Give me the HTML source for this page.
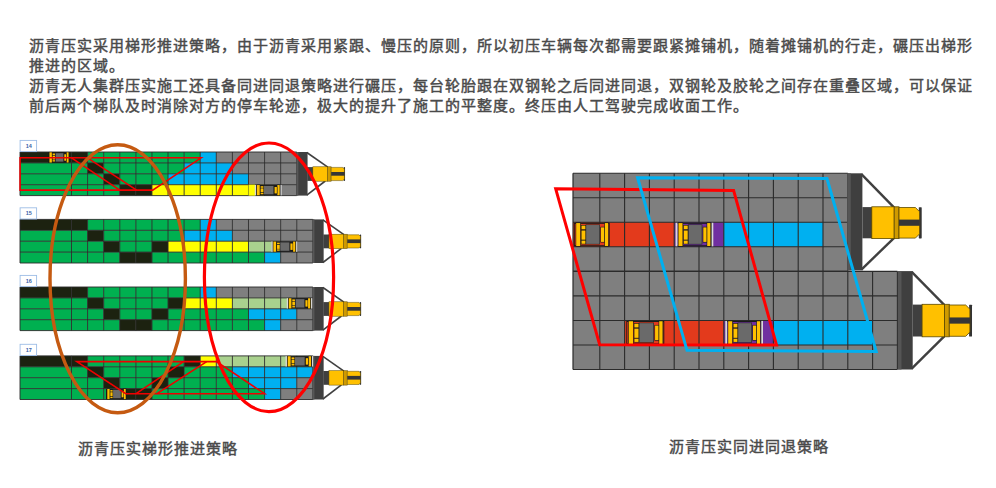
<!DOCTYPE html>
<html lang="zh-CN"><head><meta charset="utf-8">
<style>
html,body{margin:0;padding:0;background:#fff;}
body{width:996px;height:488px;position:relative;overflow:hidden;font-family:"Liberation Sans",sans-serif;}
.t{position:absolute;left:29px;font-size:15px;letter-spacing:1px;line-height:20px;color:#4a4a4a;font-weight:400;-webkit-text-stroke:0.45px #4a4a4a;white-space:nowrap;}
.cap{position:absolute;font-size:15px;letter-spacing:1px;line-height:20px;color:#4a4a4a;font-weight:400;-webkit-text-stroke:0.45px #4a4a4a;white-space:nowrap;}
svg{position:absolute;left:0;top:0;}
</style></head><body>
<div class="t" style="top:35.7px">沥青压实采用梯形推进策略，由于沥青采用紧跟、慢压的原则，所以初压车辆每次都需要跟紧摊铺机，随着摊铺机的行走，碾压出梯形<br>推进的区域。<br>沥青无人集群压实施工还具备同进同退策略进行碾压，每台轮胎跟在双钢轮之后同进同退，双钢轮及胶轮之间存在重叠区域，可以保证<br>前后两个梯队及时消除对方的停车轮迹，极大的提升了施工的平整度。终压由人工驾驶完成收面工作。</div>
<svg width="996" height="488" viewBox="0 0 996 488">
<g id="left">
<rect x="20.00" y="152.00" width="51.50" height="10.90" fill="#1c2210" />
<rect x="71.50" y="152.00" width="16.09" height="10.90" fill="#1c2210" />
<rect x="87.59" y="152.00" width="16.09" height="10.90" fill="#00b050" />
<rect x="103.68" y="152.00" width="16.09" height="10.90" fill="#00b050" />
<rect x="119.77" y="152.00" width="16.09" height="10.90" fill="#00b050" />
<rect x="135.86" y="152.00" width="16.09" height="10.90" fill="#00b050" />
<rect x="151.95" y="152.00" width="16.09" height="10.90" fill="#00b050" />
<rect x="168.04" y="152.00" width="16.09" height="10.90" fill="#00b050" />
<rect x="184.13" y="152.00" width="16.09" height="10.90" fill="#00b050" />
<rect x="200.22" y="152.00" width="16.09" height="10.90" fill="#00b0f0" />
<rect x="216.31" y="152.00" width="16.09" height="10.90" fill="#7f7f7f" />
<rect x="232.40" y="152.00" width="16.09" height="10.90" fill="#7f7f7f" />
<rect x="248.49" y="152.00" width="16.09" height="10.90" fill="#7f7f7f" />
<rect x="264.58" y="152.00" width="16.09" height="10.90" fill="#7f7f7f" />
<rect x="280.67" y="152.00" width="16.09" height="10.90" fill="#7f7f7f" />
<rect x="20.00" y="162.90" width="51.50" height="10.90" fill="#00b050" />
<rect x="71.50" y="162.90" width="16.09" height="10.90" fill="#00b050" />
<rect x="87.59" y="162.90" width="16.09" height="10.90" fill="#1c2210" />
<rect x="103.68" y="162.90" width="16.09" height="10.90" fill="#00b050" />
<rect x="119.77" y="162.90" width="16.09" height="10.90" fill="#00b050" />
<rect x="135.86" y="162.90" width="16.09" height="10.90" fill="#00b050" />
<rect x="151.95" y="162.90" width="16.09" height="10.90" fill="#00b050" />
<rect x="168.04" y="162.90" width="16.09" height="10.90" fill="#00b050" />
<rect x="184.13" y="162.90" width="16.09" height="10.90" fill="#00b0f0" />
<rect x="200.22" y="162.90" width="16.09" height="10.90" fill="#00b0f0" />
<rect x="216.31" y="162.90" width="16.09" height="10.90" fill="#00b0f0" />
<rect x="232.40" y="162.90" width="16.09" height="10.90" fill="#7f7f7f" />
<rect x="248.49" y="162.90" width="16.09" height="10.90" fill="#7f7f7f" />
<rect x="264.58" y="162.90" width="16.09" height="10.90" fill="#7f7f7f" />
<rect x="280.67" y="162.90" width="16.09" height="10.90" fill="#7f7f7f" />
<rect x="20.00" y="173.80" width="51.50" height="10.90" fill="#00b050" />
<rect x="71.50" y="173.80" width="16.09" height="10.90" fill="#00b050" />
<rect x="87.59" y="173.80" width="16.09" height="10.90" fill="#00b050" />
<rect x="103.68" y="173.80" width="16.09" height="10.90" fill="#1c2210" />
<rect x="119.77" y="173.80" width="16.09" height="10.90" fill="#00b050" />
<rect x="135.86" y="173.80" width="16.09" height="10.90" fill="#00b050" />
<rect x="151.95" y="173.80" width="16.09" height="10.90" fill="#00b050" />
<rect x="168.04" y="173.80" width="16.09" height="10.90" fill="#00b0f0" />
<rect x="184.13" y="173.80" width="16.09" height="10.90" fill="#00b0f0" />
<rect x="200.22" y="173.80" width="16.09" height="10.90" fill="#00b0f0" />
<rect x="216.31" y="173.80" width="16.09" height="10.90" fill="#00b0f0" />
<rect x="232.40" y="173.80" width="16.09" height="10.90" fill="#00b0f0" />
<rect x="248.49" y="173.80" width="16.09" height="10.90" fill="#7f7f7f" />
<rect x="264.58" y="173.80" width="16.09" height="10.90" fill="#7f7f7f" />
<rect x="280.67" y="173.80" width="16.09" height="10.90" fill="#7f7f7f" />
<rect x="20.00" y="184.70" width="51.50" height="10.90" fill="#00b050" />
<rect x="71.50" y="184.70" width="16.09" height="10.90" fill="#00b050" />
<rect x="87.59" y="184.70" width="16.09" height="10.90" fill="#00b050" />
<rect x="103.68" y="184.70" width="16.09" height="10.90" fill="#00b050" />
<rect x="119.77" y="184.70" width="16.09" height="10.90" fill="#1c2210" />
<rect x="135.86" y="184.70" width="16.09" height="10.90" fill="#1c2210" />
<rect x="151.95" y="184.70" width="16.09" height="10.90" fill="#ffff00" />
<rect x="168.04" y="184.70" width="16.09" height="10.90" fill="#ffff00" />
<rect x="184.13" y="184.70" width="16.09" height="10.90" fill="#ffff00" />
<rect x="200.22" y="184.70" width="16.09" height="10.90" fill="#ffff00" />
<rect x="216.31" y="184.70" width="16.09" height="10.90" fill="#ffff00" />
<rect x="232.40" y="184.70" width="16.09" height="10.90" fill="#ffff00" />
<rect x="248.49" y="184.70" width="16.09" height="10.90" fill="#ffff00" />
<rect x="264.58" y="184.70" width="16.09" height="10.90" fill="#7f7f7f" />
<rect x="280.67" y="184.70" width="16.09" height="10.90" fill="#7f7f7f" />
<line x1="71.50" y1="152.00" x2="71.50" y2="195.60" stroke="#2b2b2b" stroke-width="0.9" />
<line x1="87.59" y1="152.00" x2="87.59" y2="195.60" stroke="#2b2b2b" stroke-width="0.9" />
<line x1="103.68" y1="152.00" x2="103.68" y2="195.60" stroke="#2b2b2b" stroke-width="0.9" />
<line x1="119.77" y1="152.00" x2="119.77" y2="195.60" stroke="#2b2b2b" stroke-width="0.9" />
<line x1="135.86" y1="152.00" x2="135.86" y2="195.60" stroke="#2b2b2b" stroke-width="0.9" />
<line x1="151.95" y1="152.00" x2="151.95" y2="195.60" stroke="#2b2b2b" stroke-width="0.9" />
<line x1="168.04" y1="152.00" x2="168.04" y2="195.60" stroke="#2b2b2b" stroke-width="0.9" />
<line x1="184.13" y1="152.00" x2="184.13" y2="195.60" stroke="#2b2b2b" stroke-width="0.9" />
<line x1="200.22" y1="152.00" x2="200.22" y2="195.60" stroke="#2b2b2b" stroke-width="0.9" />
<line x1="216.31" y1="152.00" x2="216.31" y2="195.60" stroke="#2b2b2b" stroke-width="0.9" />
<line x1="232.40" y1="152.00" x2="232.40" y2="195.60" stroke="#2b2b2b" stroke-width="0.9" />
<line x1="248.49" y1="152.00" x2="248.49" y2="195.60" stroke="#2b2b2b" stroke-width="0.9" />
<line x1="264.58" y1="152.00" x2="264.58" y2="195.60" stroke="#2b2b2b" stroke-width="0.9" />
<line x1="280.67" y1="152.00" x2="280.67" y2="195.60" stroke="#2b2b2b" stroke-width="0.9" />
<line x1="296.76" y1="152.00" x2="296.76" y2="195.60" stroke="#2b2b2b" stroke-width="0.9" />
<line x1="20.00" y1="152.00" x2="296.76" y2="152.00" stroke="#2b2b2b" stroke-width="0.9" />
<line x1="20.00" y1="162.90" x2="296.76" y2="162.90" stroke="#2b2b2b" stroke-width="0.9" />
<line x1="20.00" y1="173.80" x2="296.76" y2="173.80" stroke="#2b2b2b" stroke-width="0.9" />
<line x1="20.00" y1="184.70" x2="296.76" y2="184.70" stroke="#2b2b2b" stroke-width="0.9" />
<line x1="20.00" y1="195.60" x2="296.76" y2="195.60" stroke="#2b2b2b" stroke-width="0.9" />
<line x1="20.00" y1="152.00" x2="20.00" y2="195.60" stroke="#2b2b2b" stroke-width="0.9" />
<polyline points="306.8,152.5 327.8,167.2" stroke="#404040" stroke-width="1.6" fill="none"/>
<polyline points="306.8,195.1 325.3,181.0" stroke="#404040" stroke-width="1.6" fill="none"/>
<rect x="296.76" y="152.00" width="10.80" height="43.60" fill="#3f3f3f" />
<rect x="296.76" y="152.00" width="1.60" height="43.60" fill="#575757" />
<rect x="307.26" y="167.10" width="6.10" height="13.80" fill="#3f3f3f" />
<rect x="312.86" y="166.80" width="14.40" height="14.40" fill="#ffc000" stroke="#5a4800" stroke-width="0.5"/>
<rect x="327.26" y="166.80" width="3.90" height="14.40" fill="#cf9a00" stroke="#5a4800" stroke-width="0.5"/>
<rect x="343.56" y="167.10" width="1.48" height="13.80" fill="#333" rx="0.6"/>
<path d="M331.16,167.40 H342.76 L344.36,169.00 V179.00 L342.76,180.60 H331.16 Z" fill="#ffc000" stroke="#5a4800" stroke-width="0.5"/>
<rect x="331.16" y="172.00" width="13.50" height="3.70" fill="#363636" />
<rect x="20.10" y="140.40" width="16.50" height="11.20" fill="#fff" stroke="#9dbde6" stroke-width="0.9"/>
<text x="28.7" y="148.0" font-size="5.5" font-weight="bold" fill="#3b64a8" text-anchor="middle" font-family="Liberation Sans">14</text>
<rect x="20.00" y="219.40" width="51.50" height="10.90" fill="#1c2210" />
<rect x="71.50" y="219.40" width="16.09" height="10.90" fill="#1c2210" />
<rect x="87.59" y="219.40" width="16.09" height="10.90" fill="#00b050" />
<rect x="103.68" y="219.40" width="16.09" height="10.90" fill="#00b050" />
<rect x="119.77" y="219.40" width="16.09" height="10.90" fill="#00b050" />
<rect x="135.86" y="219.40" width="16.09" height="10.90" fill="#00b050" />
<rect x="151.95" y="219.40" width="16.09" height="10.90" fill="#00b050" />
<rect x="168.04" y="219.40" width="16.09" height="10.90" fill="#00b050" />
<rect x="184.13" y="219.40" width="16.09" height="10.90" fill="#00b050" />
<rect x="200.22" y="219.40" width="16.09" height="10.90" fill="#00b0f0" />
<rect x="216.31" y="219.40" width="16.09" height="10.90" fill="#7f7f7f" />
<rect x="232.40" y="219.40" width="16.09" height="10.90" fill="#7f7f7f" />
<rect x="248.49" y="219.40" width="16.09" height="10.90" fill="#7f7f7f" />
<rect x="264.58" y="219.40" width="16.09" height="10.90" fill="#7f7f7f" />
<rect x="280.67" y="219.40" width="16.09" height="10.90" fill="#7f7f7f" />
<rect x="296.76" y="219.40" width="16.09" height="10.90" fill="#7f7f7f" />
<rect x="20.00" y="230.30" width="51.50" height="10.90" fill="#00b050" />
<rect x="71.50" y="230.30" width="16.09" height="10.90" fill="#00b050" />
<rect x="87.59" y="230.30" width="16.09" height="10.90" fill="#1c2210" />
<rect x="103.68" y="230.30" width="16.09" height="10.90" fill="#00b050" />
<rect x="119.77" y="230.30" width="16.09" height="10.90" fill="#00b050" />
<rect x="135.86" y="230.30" width="16.09" height="10.90" fill="#00b050" />
<rect x="151.95" y="230.30" width="16.09" height="10.90" fill="#00b050" />
<rect x="168.04" y="230.30" width="16.09" height="10.90" fill="#00b050" />
<rect x="184.13" y="230.30" width="16.09" height="10.90" fill="#00b0f0" />
<rect x="200.22" y="230.30" width="16.09" height="10.90" fill="#00b0f0" />
<rect x="216.31" y="230.30" width="16.09" height="10.90" fill="#00b0f0" />
<rect x="232.40" y="230.30" width="16.09" height="10.90" fill="#7f7f7f" />
<rect x="248.49" y="230.30" width="16.09" height="10.90" fill="#7f7f7f" />
<rect x="264.58" y="230.30" width="16.09" height="10.90" fill="#7f7f7f" />
<rect x="280.67" y="230.30" width="16.09" height="10.90" fill="#7f7f7f" />
<rect x="296.76" y="230.30" width="16.09" height="10.90" fill="#7f7f7f" />
<rect x="20.00" y="241.20" width="51.50" height="10.90" fill="#00b050" />
<rect x="71.50" y="241.20" width="16.09" height="10.90" fill="#00b050" />
<rect x="87.59" y="241.20" width="16.09" height="10.90" fill="#00b050" />
<rect x="103.68" y="241.20" width="16.09" height="10.90" fill="#1c2210" />
<rect x="119.77" y="241.20" width="16.09" height="10.90" fill="#00b050" />
<rect x="135.86" y="241.20" width="16.09" height="10.90" fill="#00b050" />
<rect x="151.95" y="241.20" width="16.09" height="10.90" fill="#1c2210" />
<rect x="168.04" y="241.20" width="16.09" height="10.90" fill="#ffff00" />
<rect x="184.13" y="241.20" width="16.09" height="10.90" fill="#ffff00" />
<rect x="200.22" y="241.20" width="16.09" height="10.90" fill="#ffff00" />
<rect x="216.31" y="241.20" width="16.09" height="10.90" fill="#ffff00" />
<rect x="232.40" y="241.20" width="16.09" height="10.90" fill="#ffff00" />
<rect x="248.49" y="241.20" width="16.09" height="10.90" fill="#a9d18e" />
<rect x="264.58" y="241.20" width="16.09" height="10.90" fill="#a9d18e" />
<rect x="280.67" y="241.20" width="16.09" height="10.90" fill="#7f7f7f" />
<rect x="296.76" y="241.20" width="16.09" height="10.90" fill="#7f7f7f" />
<rect x="20.00" y="252.10" width="51.50" height="10.90" fill="#00b050" />
<rect x="71.50" y="252.10" width="16.09" height="10.90" fill="#00b050" />
<rect x="87.59" y="252.10" width="16.09" height="10.90" fill="#00b050" />
<rect x="103.68" y="252.10" width="16.09" height="10.90" fill="#00b050" />
<rect x="119.77" y="252.10" width="16.09" height="10.90" fill="#1c2210" />
<rect x="135.86" y="252.10" width="16.09" height="10.90" fill="#1c2210" />
<rect x="151.95" y="252.10" width="16.09" height="10.90" fill="#00b050" />
<rect x="168.04" y="252.10" width="16.09" height="10.90" fill="#00b050" />
<rect x="184.13" y="252.10" width="16.09" height="10.90" fill="#00b050" />
<rect x="200.22" y="252.10" width="16.09" height="10.90" fill="#00b050" />
<rect x="216.31" y="252.10" width="16.09" height="10.90" fill="#00b050" />
<rect x="232.40" y="252.10" width="16.09" height="10.90" fill="#00b050" />
<rect x="248.49" y="252.10" width="16.09" height="10.90" fill="#00b050" />
<rect x="264.58" y="252.10" width="16.09" height="10.90" fill="#00b0f0" />
<rect x="280.67" y="252.10" width="16.09" height="10.90" fill="#7f7f7f" />
<rect x="296.76" y="252.10" width="16.09" height="10.90" fill="#7f7f7f" />
<line x1="71.50" y1="219.40" x2="71.50" y2="263.00" stroke="#2b2b2b" stroke-width="0.9" />
<line x1="87.59" y1="219.40" x2="87.59" y2="263.00" stroke="#2b2b2b" stroke-width="0.9" />
<line x1="103.68" y1="219.40" x2="103.68" y2="263.00" stroke="#2b2b2b" stroke-width="0.9" />
<line x1="119.77" y1="219.40" x2="119.77" y2="263.00" stroke="#2b2b2b" stroke-width="0.9" />
<line x1="135.86" y1="219.40" x2="135.86" y2="263.00" stroke="#2b2b2b" stroke-width="0.9" />
<line x1="151.95" y1="219.40" x2="151.95" y2="263.00" stroke="#2b2b2b" stroke-width="0.9" />
<line x1="168.04" y1="219.40" x2="168.04" y2="263.00" stroke="#2b2b2b" stroke-width="0.9" />
<line x1="184.13" y1="219.40" x2="184.13" y2="263.00" stroke="#2b2b2b" stroke-width="0.9" />
<line x1="200.22" y1="219.40" x2="200.22" y2="263.00" stroke="#2b2b2b" stroke-width="0.9" />
<line x1="216.31" y1="219.40" x2="216.31" y2="263.00" stroke="#2b2b2b" stroke-width="0.9" />
<line x1="232.40" y1="219.40" x2="232.40" y2="263.00" stroke="#2b2b2b" stroke-width="0.9" />
<line x1="248.49" y1="219.40" x2="248.49" y2="263.00" stroke="#2b2b2b" stroke-width="0.9" />
<line x1="264.58" y1="219.40" x2="264.58" y2="263.00" stroke="#2b2b2b" stroke-width="0.9" />
<line x1="280.67" y1="219.40" x2="280.67" y2="263.00" stroke="#2b2b2b" stroke-width="0.9" />
<line x1="296.76" y1="219.40" x2="296.76" y2="263.00" stroke="#2b2b2b" stroke-width="0.9" />
<line x1="312.85" y1="219.40" x2="312.85" y2="263.00" stroke="#2b2b2b" stroke-width="0.9" />
<line x1="20.00" y1="219.40" x2="312.85" y2="219.40" stroke="#2b2b2b" stroke-width="0.9" />
<line x1="20.00" y1="230.30" x2="312.85" y2="230.30" stroke="#2b2b2b" stroke-width="0.9" />
<line x1="20.00" y1="241.20" x2="312.85" y2="241.20" stroke="#2b2b2b" stroke-width="0.9" />
<line x1="20.00" y1="252.10" x2="312.85" y2="252.10" stroke="#2b2b2b" stroke-width="0.9" />
<line x1="20.00" y1="263.00" x2="312.85" y2="263.00" stroke="#2b2b2b" stroke-width="0.9" />
<line x1="20.00" y1="219.40" x2="20.00" y2="263.00" stroke="#2b2b2b" stroke-width="0.9" />
<polyline points="322.9,219.9 343.9,234.6" stroke="#404040" stroke-width="1.6" fill="none"/>
<polyline points="322.9,262.5 341.4,248.4" stroke="#404040" stroke-width="1.6" fill="none"/>
<rect x="312.85" y="219.40" width="10.80" height="43.60" fill="#3f3f3f" />
<rect x="312.85" y="219.40" width="1.60" height="43.60" fill="#575757" />
<rect x="323.35" y="234.50" width="6.10" height="13.80" fill="#3f3f3f" />
<rect x="328.95" y="234.20" width="14.40" height="14.40" fill="#ffc000" stroke="#5a4800" stroke-width="0.5"/>
<rect x="343.35" y="234.20" width="3.90" height="14.40" fill="#cf9a00" stroke="#5a4800" stroke-width="0.5"/>
<rect x="359.65" y="234.50" width="1.48" height="13.80" fill="#333" rx="0.6"/>
<path d="M347.25,234.80 H358.85 L360.45,236.40 V246.40 L358.85,248.00 H347.25 Z" fill="#ffc000" stroke="#5a4800" stroke-width="0.5"/>
<rect x="347.25" y="239.40" width="13.50" height="3.70" fill="#363636" />
<rect x="20.10" y="207.80" width="16.50" height="11.20" fill="#fff" stroke="#9dbde6" stroke-width="0.9"/>
<text x="28.7" y="215.4" font-size="5.5" font-weight="bold" fill="#3b64a8" text-anchor="middle" font-family="Liberation Sans">15</text>
<rect x="20.00" y="287.00" width="51.50" height="10.90" fill="#1c2210" />
<rect x="71.50" y="287.00" width="16.09" height="10.90" fill="#1c2210" />
<rect x="87.59" y="287.00" width="16.09" height="10.90" fill="#00b050" />
<rect x="103.68" y="287.00" width="16.09" height="10.90" fill="#00b050" />
<rect x="119.77" y="287.00" width="16.09" height="10.90" fill="#00b050" />
<rect x="135.86" y="287.00" width="16.09" height="10.90" fill="#00b050" />
<rect x="151.95" y="287.00" width="16.09" height="10.90" fill="#00b050" />
<rect x="168.04" y="287.00" width="16.09" height="10.90" fill="#00b050" />
<rect x="184.13" y="287.00" width="16.09" height="10.90" fill="#00b050" />
<rect x="200.22" y="287.00" width="16.09" height="10.90" fill="#00b0f0" />
<rect x="216.31" y="287.00" width="16.09" height="10.90" fill="#7f7f7f" />
<rect x="232.40" y="287.00" width="16.09" height="10.90" fill="#7f7f7f" />
<rect x="248.49" y="287.00" width="16.09" height="10.90" fill="#7f7f7f" />
<rect x="264.58" y="287.00" width="16.09" height="10.90" fill="#7f7f7f" />
<rect x="280.67" y="287.00" width="16.09" height="10.90" fill="#7f7f7f" />
<rect x="296.76" y="287.00" width="16.09" height="10.90" fill="#7f7f7f" />
<rect x="20.00" y="297.90" width="51.50" height="10.90" fill="#00b050" />
<rect x="71.50" y="297.90" width="16.09" height="10.90" fill="#00b050" />
<rect x="87.59" y="297.90" width="16.09" height="10.90" fill="#1c2210" />
<rect x="103.68" y="297.90" width="16.09" height="10.90" fill="#00b050" />
<rect x="119.77" y="297.90" width="16.09" height="10.90" fill="#00b050" />
<rect x="135.86" y="297.90" width="16.09" height="10.90" fill="#00b050" />
<rect x="151.95" y="297.90" width="16.09" height="10.90" fill="#00b050" />
<rect x="168.04" y="297.90" width="16.09" height="10.90" fill="#1c2210" />
<rect x="184.13" y="297.90" width="16.09" height="10.90" fill="#ffff00" />
<rect x="200.22" y="297.90" width="16.09" height="10.90" fill="#ffff00" />
<rect x="216.31" y="297.90" width="16.09" height="10.90" fill="#ffff00" />
<rect x="232.40" y="297.90" width="16.09" height="10.90" fill="#a9d18e" />
<rect x="248.49" y="297.90" width="16.09" height="10.90" fill="#a9d18e" />
<rect x="264.58" y="297.90" width="16.09" height="10.90" fill="#a9d18e" />
<rect x="280.67" y="297.90" width="16.09" height="10.90" fill="#a9d18e" />
<rect x="296.76" y="297.90" width="16.09" height="10.90" fill="#7f7f7f" />
<rect x="20.00" y="308.80" width="51.50" height="10.90" fill="#00b050" />
<rect x="71.50" y="308.80" width="16.09" height="10.90" fill="#00b050" />
<rect x="87.59" y="308.80" width="16.09" height="10.90" fill="#00b050" />
<rect x="103.68" y="308.80" width="16.09" height="10.90" fill="#1c2210" />
<rect x="119.77" y="308.80" width="16.09" height="10.90" fill="#00b050" />
<rect x="135.86" y="308.80" width="16.09" height="10.90" fill="#00b050" />
<rect x="151.95" y="308.80" width="16.09" height="10.90" fill="#1c2210" />
<rect x="168.04" y="308.80" width="16.09" height="10.90" fill="#00b050" />
<rect x="184.13" y="308.80" width="16.09" height="10.90" fill="#00b050" />
<rect x="200.22" y="308.80" width="16.09" height="10.90" fill="#00b050" />
<rect x="216.31" y="308.80" width="16.09" height="10.90" fill="#00b050" />
<rect x="232.40" y="308.80" width="16.09" height="10.90" fill="#00b050" />
<rect x="248.49" y="308.80" width="16.09" height="10.90" fill="#00b0f0" />
<rect x="264.58" y="308.80" width="16.09" height="10.90" fill="#00b0f0" />
<rect x="280.67" y="308.80" width="16.09" height="10.90" fill="#00b0f0" />
<rect x="296.76" y="308.80" width="16.09" height="10.90" fill="#7f7f7f" />
<rect x="20.00" y="319.70" width="51.50" height="10.90" fill="#00b050" />
<rect x="71.50" y="319.70" width="16.09" height="10.90" fill="#00b050" />
<rect x="87.59" y="319.70" width="16.09" height="10.90" fill="#00b050" />
<rect x="103.68" y="319.70" width="16.09" height="10.90" fill="#00b050" />
<rect x="119.77" y="319.70" width="16.09" height="10.90" fill="#1c2210" />
<rect x="135.86" y="319.70" width="16.09" height="10.90" fill="#1c2210" />
<rect x="151.95" y="319.70" width="16.09" height="10.90" fill="#00b050" />
<rect x="168.04" y="319.70" width="16.09" height="10.90" fill="#00b050" />
<rect x="184.13" y="319.70" width="16.09" height="10.90" fill="#00b050" />
<rect x="200.22" y="319.70" width="16.09" height="10.90" fill="#00b050" />
<rect x="216.31" y="319.70" width="16.09" height="10.90" fill="#00b050" />
<rect x="232.40" y="319.70" width="16.09" height="10.90" fill="#00b050" />
<rect x="248.49" y="319.70" width="16.09" height="10.90" fill="#00b050" />
<rect x="264.58" y="319.70" width="16.09" height="10.90" fill="#00b0f0" />
<rect x="280.67" y="319.70" width="16.09" height="10.90" fill="#7f7f7f" />
<rect x="296.76" y="319.70" width="16.09" height="10.90" fill="#7f7f7f" />
<line x1="71.50" y1="287.00" x2="71.50" y2="330.60" stroke="#2b2b2b" stroke-width="0.9" />
<line x1="87.59" y1="287.00" x2="87.59" y2="330.60" stroke="#2b2b2b" stroke-width="0.9" />
<line x1="103.68" y1="287.00" x2="103.68" y2="330.60" stroke="#2b2b2b" stroke-width="0.9" />
<line x1="119.77" y1="287.00" x2="119.77" y2="330.60" stroke="#2b2b2b" stroke-width="0.9" />
<line x1="135.86" y1="287.00" x2="135.86" y2="330.60" stroke="#2b2b2b" stroke-width="0.9" />
<line x1="151.95" y1="287.00" x2="151.95" y2="330.60" stroke="#2b2b2b" stroke-width="0.9" />
<line x1="168.04" y1="287.00" x2="168.04" y2="330.60" stroke="#2b2b2b" stroke-width="0.9" />
<line x1="184.13" y1="287.00" x2="184.13" y2="330.60" stroke="#2b2b2b" stroke-width="0.9" />
<line x1="200.22" y1="287.00" x2="200.22" y2="330.60" stroke="#2b2b2b" stroke-width="0.9" />
<line x1="216.31" y1="287.00" x2="216.31" y2="330.60" stroke="#2b2b2b" stroke-width="0.9" />
<line x1="232.40" y1="287.00" x2="232.40" y2="330.60" stroke="#2b2b2b" stroke-width="0.9" />
<line x1="248.49" y1="287.00" x2="248.49" y2="330.60" stroke="#2b2b2b" stroke-width="0.9" />
<line x1="264.58" y1="287.00" x2="264.58" y2="330.60" stroke="#2b2b2b" stroke-width="0.9" />
<line x1="280.67" y1="287.00" x2="280.67" y2="330.60" stroke="#2b2b2b" stroke-width="0.9" />
<line x1="296.76" y1="287.00" x2="296.76" y2="330.60" stroke="#2b2b2b" stroke-width="0.9" />
<line x1="312.85" y1="287.00" x2="312.85" y2="330.60" stroke="#2b2b2b" stroke-width="0.9" />
<line x1="20.00" y1="287.00" x2="312.85" y2="287.00" stroke="#2b2b2b" stroke-width="0.9" />
<line x1="20.00" y1="297.90" x2="312.85" y2="297.90" stroke="#2b2b2b" stroke-width="0.9" />
<line x1="20.00" y1="308.80" x2="312.85" y2="308.80" stroke="#2b2b2b" stroke-width="0.9" />
<line x1="20.00" y1="319.70" x2="312.85" y2="319.70" stroke="#2b2b2b" stroke-width="0.9" />
<line x1="20.00" y1="330.60" x2="312.85" y2="330.60" stroke="#2b2b2b" stroke-width="0.9" />
<line x1="20.00" y1="287.00" x2="20.00" y2="330.60" stroke="#2b2b2b" stroke-width="0.9" />
<polyline points="322.9,287.5 343.9,302.2" stroke="#404040" stroke-width="1.6" fill="none"/>
<polyline points="322.9,330.1 341.4,316.0" stroke="#404040" stroke-width="1.6" fill="none"/>
<rect x="312.85" y="287.00" width="10.80" height="43.60" fill="#3f3f3f" />
<rect x="312.85" y="287.00" width="1.60" height="43.60" fill="#575757" />
<rect x="323.35" y="302.10" width="6.10" height="13.80" fill="#3f3f3f" />
<rect x="328.95" y="301.80" width="14.40" height="14.40" fill="#ffc000" stroke="#5a4800" stroke-width="0.5"/>
<rect x="343.35" y="301.80" width="3.90" height="14.40" fill="#cf9a00" stroke="#5a4800" stroke-width="0.5"/>
<rect x="359.65" y="302.10" width="1.48" height="13.80" fill="#333" rx="0.6"/>
<path d="M347.25,302.40 H358.85 L360.45,304.00 V314.00 L358.85,315.60 H347.25 Z" fill="#ffc000" stroke="#5a4800" stroke-width="0.5"/>
<rect x="347.25" y="307.00" width="13.50" height="3.70" fill="#363636" />
<rect x="20.10" y="275.40" width="16.50" height="11.20" fill="#fff" stroke="#9dbde6" stroke-width="0.9"/>
<text x="28.7" y="283.0" font-size="5.5" font-weight="bold" fill="#3b64a8" text-anchor="middle" font-family="Liberation Sans">16</text>
<rect x="20.00" y="355.90" width="51.50" height="10.90" fill="#1c2210" />
<rect x="71.50" y="355.90" width="16.09" height="10.90" fill="#1c2210" />
<rect x="87.59" y="355.90" width="16.09" height="10.90" fill="#00b050" />
<rect x="103.68" y="355.90" width="16.09" height="10.90" fill="#00b050" />
<rect x="119.77" y="355.90" width="16.09" height="10.90" fill="#00b050" />
<rect x="135.86" y="355.90" width="16.09" height="10.90" fill="#00b050" />
<rect x="151.95" y="355.90" width="16.09" height="10.90" fill="#00b050" />
<rect x="168.04" y="355.90" width="16.09" height="10.90" fill="#00b050" />
<rect x="184.13" y="355.90" width="16.09" height="10.90" fill="#1c2210" />
<rect x="200.22" y="355.90" width="16.09" height="10.90" fill="#ffff00" />
<rect x="216.31" y="355.90" width="16.09" height="10.90" fill="#a9d18e" />
<rect x="232.40" y="355.90" width="16.09" height="10.90" fill="#a9d18e" />
<rect x="248.49" y="355.90" width="16.09" height="10.90" fill="#a9d18e" />
<rect x="264.58" y="355.90" width="16.09" height="10.90" fill="#a9d18e" />
<rect x="280.67" y="355.90" width="16.09" height="10.90" fill="#a9d18e" />
<rect x="296.76" y="355.90" width="16.09" height="10.90" fill="#a9d18e" />
<rect x="20.00" y="366.80" width="51.50" height="10.90" fill="#00b050" />
<rect x="71.50" y="366.80" width="16.09" height="10.90" fill="#00b050" />
<rect x="87.59" y="366.80" width="16.09" height="10.90" fill="#1c2210" />
<rect x="103.68" y="366.80" width="16.09" height="10.90" fill="#00b050" />
<rect x="119.77" y="366.80" width="16.09" height="10.90" fill="#00b050" />
<rect x="135.86" y="366.80" width="16.09" height="10.90" fill="#00b050" />
<rect x="151.95" y="366.80" width="16.09" height="10.90" fill="#00b050" />
<rect x="168.04" y="366.80" width="16.09" height="10.90" fill="#1c2210" />
<rect x="184.13" y="366.80" width="16.09" height="10.90" fill="#00b050" />
<rect x="200.22" y="366.80" width="16.09" height="10.90" fill="#00b050" />
<rect x="216.31" y="366.80" width="16.09" height="10.90" fill="#00b050" />
<rect x="232.40" y="366.80" width="16.09" height="10.90" fill="#00b0f0" />
<rect x="248.49" y="366.80" width="16.09" height="10.90" fill="#00b0f0" />
<rect x="264.58" y="366.80" width="16.09" height="10.90" fill="#00b0f0" />
<rect x="280.67" y="366.80" width="16.09" height="10.90" fill="#00b0f0" />
<rect x="296.76" y="366.80" width="16.09" height="10.90" fill="#00b0f0" />
<rect x="20.00" y="377.70" width="51.50" height="10.90" fill="#00b050" />
<rect x="71.50" y="377.70" width="16.09" height="10.90" fill="#00b050" />
<rect x="87.59" y="377.70" width="16.09" height="10.90" fill="#00b050" />
<rect x="103.68" y="377.70" width="16.09" height="10.90" fill="#1c2210" />
<rect x="119.77" y="377.70" width="16.09" height="10.90" fill="#00b050" />
<rect x="135.86" y="377.70" width="16.09" height="10.90" fill="#00b050" />
<rect x="151.95" y="377.70" width="16.09" height="10.90" fill="#1c2210" />
<rect x="168.04" y="377.70" width="16.09" height="10.90" fill="#00b050" />
<rect x="184.13" y="377.70" width="16.09" height="10.90" fill="#00b050" />
<rect x="200.22" y="377.70" width="16.09" height="10.90" fill="#00b050" />
<rect x="216.31" y="377.70" width="16.09" height="10.90" fill="#00b050" />
<rect x="232.40" y="377.70" width="16.09" height="10.90" fill="#00b050" />
<rect x="248.49" y="377.70" width="16.09" height="10.90" fill="#00b0f0" />
<rect x="264.58" y="377.70" width="16.09" height="10.90" fill="#00b0f0" />
<rect x="280.67" y="377.70" width="16.09" height="10.90" fill="#00b0f0" />
<rect x="296.76" y="377.70" width="16.09" height="10.90" fill="#7f7f7f" />
<rect x="20.00" y="388.60" width="51.50" height="10.90" fill="#00b050" />
<rect x="71.50" y="388.60" width="16.09" height="10.90" fill="#00b050" />
<rect x="87.59" y="388.60" width="16.09" height="10.90" fill="#00b050" />
<rect x="103.68" y="388.60" width="16.09" height="10.90" fill="#00b050" />
<rect x="119.77" y="388.60" width="16.09" height="10.90" fill="#1c2210" />
<rect x="135.86" y="388.60" width="16.09" height="10.90" fill="#1c2210" />
<rect x="151.95" y="388.60" width="16.09" height="10.90" fill="#00b050" />
<rect x="168.04" y="388.60" width="16.09" height="10.90" fill="#00b050" />
<rect x="184.13" y="388.60" width="16.09" height="10.90" fill="#00b050" />
<rect x="200.22" y="388.60" width="16.09" height="10.90" fill="#00b050" />
<rect x="216.31" y="388.60" width="16.09" height="10.90" fill="#00b050" />
<rect x="232.40" y="388.60" width="16.09" height="10.90" fill="#00b050" />
<rect x="248.49" y="388.60" width="16.09" height="10.90" fill="#00b050" />
<rect x="264.58" y="388.60" width="16.09" height="10.90" fill="#00b0f0" />
<rect x="280.67" y="388.60" width="16.09" height="10.90" fill="#7f7f7f" />
<rect x="296.76" y="388.60" width="16.09" height="10.90" fill="#7f7f7f" />
<line x1="71.50" y1="355.90" x2="71.50" y2="399.50" stroke="#2b2b2b" stroke-width="0.9" />
<line x1="87.59" y1="355.90" x2="87.59" y2="399.50" stroke="#2b2b2b" stroke-width="0.9" />
<line x1="103.68" y1="355.90" x2="103.68" y2="399.50" stroke="#2b2b2b" stroke-width="0.9" />
<line x1="119.77" y1="355.90" x2="119.77" y2="399.50" stroke="#2b2b2b" stroke-width="0.9" />
<line x1="135.86" y1="355.90" x2="135.86" y2="399.50" stroke="#2b2b2b" stroke-width="0.9" />
<line x1="151.95" y1="355.90" x2="151.95" y2="399.50" stroke="#2b2b2b" stroke-width="0.9" />
<line x1="168.04" y1="355.90" x2="168.04" y2="399.50" stroke="#2b2b2b" stroke-width="0.9" />
<line x1="184.13" y1="355.90" x2="184.13" y2="399.50" stroke="#2b2b2b" stroke-width="0.9" />
<line x1="200.22" y1="355.90" x2="200.22" y2="399.50" stroke="#2b2b2b" stroke-width="0.9" />
<line x1="216.31" y1="355.90" x2="216.31" y2="399.50" stroke="#2b2b2b" stroke-width="0.9" />
<line x1="232.40" y1="355.90" x2="232.40" y2="399.50" stroke="#2b2b2b" stroke-width="0.9" />
<line x1="248.49" y1="355.90" x2="248.49" y2="399.50" stroke="#2b2b2b" stroke-width="0.9" />
<line x1="264.58" y1="355.90" x2="264.58" y2="399.50" stroke="#2b2b2b" stroke-width="0.9" />
<line x1="280.67" y1="355.90" x2="280.67" y2="399.50" stroke="#2b2b2b" stroke-width="0.9" />
<line x1="296.76" y1="355.90" x2="296.76" y2="399.50" stroke="#2b2b2b" stroke-width="0.9" />
<line x1="312.85" y1="355.90" x2="312.85" y2="399.50" stroke="#2b2b2b" stroke-width="0.9" />
<line x1="20.00" y1="355.90" x2="312.85" y2="355.90" stroke="#2b2b2b" stroke-width="0.9" />
<line x1="20.00" y1="366.80" x2="312.85" y2="366.80" stroke="#2b2b2b" stroke-width="0.9" />
<line x1="20.00" y1="377.70" x2="312.85" y2="377.70" stroke="#2b2b2b" stroke-width="0.9" />
<line x1="20.00" y1="388.60" x2="312.85" y2="388.60" stroke="#2b2b2b" stroke-width="0.9" />
<line x1="20.00" y1="399.50" x2="312.85" y2="399.50" stroke="#2b2b2b" stroke-width="0.9" />
<line x1="20.00" y1="355.90" x2="20.00" y2="399.50" stroke="#2b2b2b" stroke-width="0.9" />
<polyline points="322.9,356.4 343.9,371.1" stroke="#404040" stroke-width="1.6" fill="none"/>
<polyline points="322.9,399.0 341.4,384.9" stroke="#404040" stroke-width="1.6" fill="none"/>
<rect x="312.85" y="355.90" width="10.80" height="43.60" fill="#3f3f3f" />
<rect x="312.85" y="355.90" width="1.60" height="43.60" fill="#575757" />
<rect x="323.35" y="371.00" width="6.10" height="13.80" fill="#3f3f3f" />
<rect x="328.95" y="370.70" width="14.40" height="14.40" fill="#ffc000" stroke="#5a4800" stroke-width="0.5"/>
<rect x="343.35" y="370.70" width="3.90" height="14.40" fill="#cf9a00" stroke="#5a4800" stroke-width="0.5"/>
<rect x="359.65" y="371.00" width="1.48" height="13.80" fill="#333" rx="0.6"/>
<path d="M347.25,371.30 H358.85 L360.45,372.90 V382.90 L358.85,384.50 H347.25 Z" fill="#ffc000" stroke="#5a4800" stroke-width="0.5"/>
<rect x="347.25" y="375.90" width="13.50" height="3.70" fill="#363636" />
<rect x="20.10" y="344.30" width="16.50" height="11.20" fill="#fff" stroke="#9dbde6" stroke-width="0.9"/>
<text x="28.7" y="351.9" font-size="5.5" font-weight="bold" fill="#3b64a8" text-anchor="middle" font-family="Liberation Sans">17</text>
<rect x="248.49" y="184.70" width="6.51" height="10.90" fill="#ffff00" />
<rect x="255.21" y="184.93" width="25.57" height="10.44" fill="#1a1a1a" />
<rect x="254.79" y="184.93" width="1.36" height="10.44" fill="#d9d9d9" />
<rect x="280.50" y="184.93" width="1.21" height="10.44" fill="#d9d9d9" />
<rect x="263.57" y="185.67" width="10.29" height="8.87" fill="#262626" />
<rect x="264.00" y="185.93" width="9.43" height="8.35" fill="#6a6a6a" />
<rect x="256.46" y="184.66" width="3.66" height="10.98" fill="#1a1a1a" />
<rect x="256.86" y="185.06" width="2.86" height="10.18" fill="#ffc000" />
<rect x="276.96" y="184.66" width="3.09" height="10.98" fill="#1a1a1a" />
<rect x="277.36" y="185.06" width="2.29" height="10.18" fill="#ffc000" />
<rect x="260.24" y="185.79" width="3.59" height="2.41" fill="#1a1a1a" />
<rect x="260.64" y="186.19" width="2.79" height="1.61" fill="#ffc000" />
<rect x="260.24" y="187.97" width="3.59" height="4.85" fill="#1a1a1a" />
<rect x="260.64" y="188.37" width="2.79" height="4.05" fill="#ffc000" />
<rect x="260.24" y="192.45" width="3.59" height="2.19" fill="#1a1a1a" />
<rect x="260.64" y="192.85" width="2.79" height="1.39" fill="#ffc000" />
<rect x="274.17" y="186.57" width="3.09" height="7.24" fill="#1a1a1a" />
<rect x="274.57" y="186.97" width="2.29" height="6.44" fill="#ffc000" />
<rect x="48.08" y="152.23" width="21.44" height="10.44" fill="#1a1a1a" />
<rect x="55.09" y="152.97" width="8.62" height="8.87" fill="#262626" />
<rect x="55.45" y="153.23" width="7.91" height="8.35" fill="#6a6a6a" />
<rect x="49.06" y="151.96" width="3.20" height="10.98" fill="#1a1a1a" />
<rect x="49.46" y="152.36" width="2.40" height="10.18" fill="#ffc000" />
<rect x="66.25" y="151.96" width="2.72" height="10.98" fill="#1a1a1a" />
<rect x="66.65" y="152.36" width="1.92" height="10.18" fill="#ffc000" />
<rect x="52.23" y="153.09" width="3.14" height="2.41" fill="#1a1a1a" />
<rect x="52.63" y="153.49" width="2.34" height="1.61" fill="#ffc000" />
<rect x="52.23" y="155.27" width="3.14" height="4.85" fill="#1a1a1a" />
<rect x="52.63" y="155.67" width="2.34" height="4.05" fill="#ffc000" />
<rect x="52.23" y="159.75" width="3.14" height="2.19" fill="#1a1a1a" />
<rect x="52.63" y="160.15" width="2.34" height="1.39" fill="#ffc000" />
<rect x="63.91" y="153.87" width="2.72" height="7.24" fill="#1a1a1a" />
<rect x="64.31" y="154.27" width="1.92" height="6.44" fill="#ffc000" />
<rect x="271.81" y="241.43" width="24.59" height="10.44" fill="#1a1a1a" />
<rect x="271.39" y="241.43" width="1.30" height="10.44" fill="#d9d9d9" />
<rect x="296.12" y="241.43" width="1.17" height="10.44" fill="#d9d9d9" />
<rect x="279.84" y="242.17" width="9.89" height="8.87" fill="#262626" />
<rect x="280.25" y="242.43" width="9.07" height="8.35" fill="#6a6a6a" />
<rect x="272.99" y="241.16" width="3.55" height="10.98" fill="#1a1a1a" />
<rect x="273.39" y="241.56" width="2.75" height="10.18" fill="#ffc000" />
<rect x="292.70" y="241.16" width="3.00" height="10.98" fill="#1a1a1a" />
<rect x="293.10" y="241.56" width="2.20" height="10.18" fill="#ffc000" />
<rect x="276.63" y="242.29" width="3.48" height="2.41" fill="#1a1a1a" />
<rect x="277.03" y="242.69" width="2.68" height="1.61" fill="#ffc000" />
<rect x="276.63" y="244.47" width="3.48" height="4.85" fill="#1a1a1a" />
<rect x="277.03" y="244.87" width="2.68" height="4.05" fill="#ffc000" />
<rect x="276.63" y="248.95" width="3.48" height="2.19" fill="#1a1a1a" />
<rect x="277.03" y="249.35" width="2.68" height="1.39" fill="#ffc000" />
<rect x="290.02" y="243.07" width="3.00" height="7.24" fill="#1a1a1a" />
<rect x="290.42" y="243.47" width="2.20" height="6.44" fill="#ffc000" />
<rect x="287.20" y="298.13" width="24.10" height="10.44" fill="#1a1a1a" />
<rect x="286.80" y="298.13" width="1.28" height="10.44" fill="#d9d9d9" />
<rect x="311.03" y="298.13" width="1.14" height="10.44" fill="#d9d9d9" />
<rect x="295.08" y="298.87" width="9.69" height="8.87" fill="#262626" />
<rect x="295.48" y="299.13" width="8.88" height="8.35" fill="#6a6a6a" />
<rect x="288.35" y="297.86" width="3.49" height="10.98" fill="#1a1a1a" />
<rect x="288.75" y="298.26" width="2.69" height="10.18" fill="#ffc000" />
<rect x="307.67" y="297.86" width="2.95" height="10.98" fill="#1a1a1a" />
<rect x="308.07" y="298.26" width="2.15" height="10.18" fill="#ffc000" />
<rect x="291.92" y="298.99" width="3.43" height="2.41" fill="#1a1a1a" />
<rect x="292.32" y="299.39" width="2.63" height="1.61" fill="#ffc000" />
<rect x="291.92" y="301.17" width="3.43" height="4.85" fill="#1a1a1a" />
<rect x="292.32" y="301.57" width="2.63" height="4.05" fill="#ffc000" />
<rect x="291.92" y="305.65" width="3.43" height="2.19" fill="#1a1a1a" />
<rect x="292.32" y="306.05" width="2.63" height="1.39" fill="#ffc000" />
<rect x="305.04" y="299.77" width="2.95" height="7.24" fill="#1a1a1a" />
<rect x="305.44" y="300.17" width="2.15" height="6.44" fill="#ffc000" />
<rect x="286.02" y="356.13" width="26.16" height="10.44" fill="#1a1a1a" />
<rect x="285.58" y="356.13" width="1.39" height="10.44" fill="#d9d9d9" />
<rect x="311.89" y="356.13" width="1.24" height="10.44" fill="#d9d9d9" />
<rect x="294.57" y="356.87" width="10.52" height="8.87" fill="#262626" />
<rect x="295.01" y="357.13" width="9.65" height="8.35" fill="#6a6a6a" />
<rect x="287.30" y="355.86" width="3.72" height="10.98" fill="#1a1a1a" />
<rect x="287.70" y="356.26" width="2.92" height="10.18" fill="#ffc000" />
<rect x="308.27" y="355.86" width="3.14" height="10.98" fill="#1a1a1a" />
<rect x="308.67" y="356.26" width="2.34" height="10.18" fill="#ffc000" />
<rect x="291.17" y="356.99" width="3.65" height="2.41" fill="#1a1a1a" />
<rect x="291.57" y="357.39" width="2.85" height="1.61" fill="#ffc000" />
<rect x="291.17" y="359.17" width="3.65" height="4.85" fill="#1a1a1a" />
<rect x="291.57" y="359.57" width="2.85" height="4.05" fill="#ffc000" />
<rect x="291.17" y="363.65" width="3.65" height="2.19" fill="#1a1a1a" />
<rect x="291.57" y="364.05" width="2.85" height="1.39" fill="#ffc000" />
<rect x="305.42" y="357.77" width="3.14" height="7.24" fill="#1a1a1a" />
<rect x="305.82" y="358.17" width="2.34" height="6.44" fill="#ffc000" />
<rect x="105.97" y="388.83" width="20.65" height="10.44" fill="#1a1a1a" />
<rect x="112.72" y="389.57" width="8.31" height="8.87" fill="#262626" />
<rect x="113.07" y="389.83" width="7.62" height="8.35" fill="#6a6a6a" />
<rect x="106.90" y="388.56" width="3.11" height="10.98" fill="#1a1a1a" />
<rect x="107.30" y="388.96" width="2.31" height="10.18" fill="#ffc000" />
<rect x="123.46" y="388.56" width="2.65" height="10.98" fill="#1a1a1a" />
<rect x="123.86" y="388.96" width="1.85" height="10.18" fill="#ffc000" />
<rect x="109.96" y="389.69" width="3.05" height="2.41" fill="#1a1a1a" />
<rect x="110.36" y="390.09" width="2.25" height="1.61" fill="#ffc000" />
<rect x="109.96" y="391.87" width="3.05" height="4.85" fill="#1a1a1a" />
<rect x="110.36" y="392.27" width="2.25" height="4.05" fill="#ffc000" />
<rect x="109.96" y="396.35" width="3.05" height="2.19" fill="#1a1a1a" />
<rect x="110.36" y="396.75" width="2.25" height="1.39" fill="#ffc000" />
<rect x="121.21" y="390.47" width="2.65" height="7.24" fill="#1a1a1a" />
<rect x="121.61" y="390.87" width="1.85" height="6.44" fill="#ffc000" />
<g stroke="#f00000" stroke-width="1.6" fill="none">
<polygon points="20.1,157.8 201.1,157.8 152.7,190.1 20.1,190.1"/>
<line x1="71.50" y1="157.80" x2="119.80" y2="190.10" stroke="#f00000" stroke-width="1.6" />
<line x1="87.50" y1="157.80" x2="136.60" y2="190.10" stroke="#f00000" stroke-width="1.6" />
<polygon points="76.8,361.6 216.4,361.6 264.6,393.7 125.8,393.7"/>
<line x1="136.10" y1="393.70" x2="183.50" y2="361.60" stroke="#f00000" stroke-width="1.6" />
<line x1="156.90" y1="393.70" x2="206.70" y2="361.60" stroke="#f00000" stroke-width="1.6" />
</g>
<ellipse cx="117.7" cy="278.8" rx="67.7" ry="134" fill="none" stroke="#c55a11" stroke-width="3.4"/>
<ellipse cx="269.0" cy="277.3" rx="64.6" ry="134.3" fill="none" stroke="#ff0000" stroke-width="3.2"/>
</g>
<g id="right">
<rect x="573.00" y="173.20" width="274.80" height="98.16" fill="#7f7f7f" />
<rect x="573.00" y="271.36" width="324.40" height="98.16" fill="#7f7f7f" />
<rect x="573.00" y="222.28" width="101.20" height="24.54" fill="#e33a1c" />
<rect x="674.20" y="222.28" width="49.60" height="24.54" fill="#7030a0" />
<rect x="723.80" y="222.28" width="99.20" height="24.54" fill="#00b0f0" />
<rect x="624.60" y="320.44" width="99.20" height="24.54" fill="#e33a1c" />
<rect x="723.80" y="320.44" width="49.60" height="24.54" fill="#7030a0" />
<rect x="773.40" y="320.44" width="99.20" height="24.54" fill="#00b0f0" />
<line x1="599.80" y1="173.20" x2="599.80" y2="369.52" stroke="#2b2b2b" stroke-width="1.1" />
<line x1="624.60" y1="173.20" x2="624.60" y2="369.52" stroke="#2b2b2b" stroke-width="1.1" />
<line x1="649.40" y1="173.20" x2="649.40" y2="369.52" stroke="#2b2b2b" stroke-width="1.1" />
<line x1="674.20" y1="173.20" x2="674.20" y2="369.52" stroke="#2b2b2b" stroke-width="1.1" />
<line x1="699.00" y1="173.20" x2="699.00" y2="369.52" stroke="#2b2b2b" stroke-width="1.1" />
<line x1="723.80" y1="173.20" x2="723.80" y2="369.52" stroke="#2b2b2b" stroke-width="1.1" />
<line x1="748.60" y1="173.20" x2="748.60" y2="369.52" stroke="#2b2b2b" stroke-width="1.1" />
<line x1="773.40" y1="173.20" x2="773.40" y2="369.52" stroke="#2b2b2b" stroke-width="1.1" />
<line x1="798.20" y1="173.20" x2="798.20" y2="369.52" stroke="#2b2b2b" stroke-width="1.1" />
<line x1="823.00" y1="173.20" x2="823.00" y2="369.52" stroke="#2b2b2b" stroke-width="1.1" />
<line x1="847.80" y1="173.20" x2="847.80" y2="369.52" stroke="#2b2b2b" stroke-width="1.1" />
<line x1="872.60" y1="271.36" x2="872.60" y2="369.52" stroke="#2b2b2b" stroke-width="1.1" />
<line x1="897.40" y1="271.36" x2="897.40" y2="369.52" stroke="#2b2b2b" stroke-width="1.1" />
<line x1="573.00" y1="173.20" x2="847.80" y2="173.20" stroke="#2b2b2b" stroke-width="1.1" />
<line x1="573.00" y1="197.74" x2="847.80" y2="197.74" stroke="#2b2b2b" stroke-width="1.1" />
<line x1="573.00" y1="222.28" x2="847.80" y2="222.28" stroke="#2b2b2b" stroke-width="1.1" />
<line x1="573.00" y1="246.82" x2="847.80" y2="246.82" stroke="#2b2b2b" stroke-width="1.1" />
<line x1="573.00" y1="271.36" x2="847.80" y2="271.36" stroke="#2b2b2b" stroke-width="1.1" />
<line x1="573.00" y1="271.36" x2="897.40" y2="271.36" stroke="#2b2b2b" stroke-width="1.1" />
<line x1="573.00" y1="295.90" x2="897.40" y2="295.90" stroke="#2b2b2b" stroke-width="1.1" />
<line x1="573.00" y1="320.44" x2="897.40" y2="320.44" stroke="#2b2b2b" stroke-width="1.1" />
<line x1="573.00" y1="344.98" x2="897.40" y2="344.98" stroke="#2b2b2b" stroke-width="1.1" />
<line x1="573.00" y1="369.52" x2="897.40" y2="369.52" stroke="#2b2b2b" stroke-width="1.1" />
<line x1="573.00" y1="173.20" x2="573.00" y2="369.52" stroke="#2b2b2b" stroke-width="1.2" />
<rect x="573.90" y="222.77" width="35.80" height="23.55" fill="#1a1a1a" />
<rect x="574.80" y="223.85" width="34.00" height="21.39" fill="#e33a1c" />
<rect x="585.60" y="224.44" width="14.40" height="20.02" fill="#262626" />
<rect x="586.20" y="225.03" width="13.20" height="18.84" fill="#6a6a6a" />
<rect x="575.60" y="222.47" width="5.20" height="24.16" fill="#1a1a1a" />
<rect x="576.20" y="223.07" width="4.00" height="22.96" fill="#ffc000" />
<rect x="604.30" y="222.47" width="4.40" height="24.16" fill="#1a1a1a" />
<rect x="604.90" y="223.07" width="3.20" height="22.96" fill="#ffc000" />
<rect x="580.90" y="225.02" width="5.10" height="4.83" fill="#1a1a1a" />
<rect x="581.50" y="225.62" width="3.90" height="3.63" fill="#ffc000" />
<rect x="580.90" y="229.93" width="5.10" height="10.33" fill="#1a1a1a" />
<rect x="581.50" y="230.53" width="3.90" height="9.13" fill="#ffc000" />
<rect x="580.90" y="240.03" width="5.10" height="4.34" fill="#1a1a1a" />
<rect x="581.50" y="240.63" width="3.90" height="3.14" fill="#ffc000" />
<rect x="600.40" y="226.79" width="4.40" height="15.72" fill="#1a1a1a" />
<rect x="601.00" y="227.39" width="3.20" height="14.52" fill="#ffc000" />
<rect x="676.20" y="222.77" width="35.80" height="23.55" fill="#1a1a1a" />
<rect x="677.10" y="223.85" width="34.00" height="21.39" fill="#7030a0" />
<rect x="675.60" y="222.77" width="1.90" height="23.55" fill="#d9d9d9" />
<rect x="711.60" y="222.77" width="1.70" height="23.55" fill="#d9d9d9" />
<rect x="687.90" y="224.44" width="14.40" height="20.02" fill="#262626" />
<rect x="688.50" y="225.03" width="13.20" height="18.84" fill="#6a6a6a" />
<rect x="677.90" y="222.47" width="5.20" height="24.16" fill="#1a1a1a" />
<rect x="678.50" y="223.07" width="4.00" height="22.96" fill="#ffc000" />
<rect x="706.60" y="222.47" width="4.40" height="24.16" fill="#1a1a1a" />
<rect x="707.20" y="223.07" width="3.20" height="22.96" fill="#ffc000" />
<rect x="683.20" y="225.02" width="5.10" height="4.83" fill="#1a1a1a" />
<rect x="683.80" y="225.62" width="3.90" height="3.63" fill="#ffc000" />
<rect x="683.20" y="229.93" width="5.10" height="10.33" fill="#1a1a1a" />
<rect x="683.80" y="230.53" width="3.90" height="9.13" fill="#ffc000" />
<rect x="683.20" y="240.03" width="5.10" height="4.34" fill="#1a1a1a" />
<rect x="683.80" y="240.63" width="3.90" height="3.14" fill="#ffc000" />
<rect x="702.70" y="226.79" width="4.40" height="15.72" fill="#1a1a1a" />
<rect x="703.30" y="227.39" width="3.20" height="14.52" fill="#ffc000" />
<rect x="626.32" y="320.93" width="37.96" height="23.55" fill="#1a1a1a" />
<rect x="627.27" y="322.01" width="36.05" height="21.39" fill="#e33a1c" />
<rect x="638.73" y="322.60" width="15.27" height="20.02" fill="#262626" />
<rect x="639.36" y="323.19" width="14.00" height="18.84" fill="#6a6a6a" />
<rect x="628.16" y="320.63" width="5.44" height="24.16" fill="#1a1a1a" />
<rect x="628.76" y="321.23" width="4.24" height="22.96" fill="#ffc000" />
<rect x="658.59" y="320.63" width="4.59" height="24.16" fill="#1a1a1a" />
<rect x="659.19" y="321.23" width="3.39" height="22.96" fill="#ffc000" />
<rect x="633.78" y="323.18" width="5.34" height="4.83" fill="#1a1a1a" />
<rect x="634.38" y="323.78" width="4.14" height="3.63" fill="#ffc000" />
<rect x="633.78" y="328.09" width="5.34" height="10.33" fill="#1a1a1a" />
<rect x="634.38" y="328.69" width="4.14" height="9.13" fill="#ffc000" />
<rect x="633.78" y="338.19" width="5.34" height="4.34" fill="#1a1a1a" />
<rect x="634.38" y="338.79" width="4.14" height="3.14" fill="#ffc000" />
<rect x="654.46" y="324.95" width="4.59" height="15.72" fill="#1a1a1a" />
<rect x="655.06" y="325.55" width="3.39" height="14.52" fill="#ffc000" />
<rect x="725.90" y="320.93" width="35.80" height="23.55" fill="#1a1a1a" />
<rect x="726.80" y="322.01" width="34.00" height="21.39" fill="#7030a0" />
<rect x="725.30" y="320.93" width="1.90" height="23.55" fill="#d9d9d9" />
<rect x="761.30" y="320.93" width="1.70" height="23.55" fill="#d9d9d9" />
<rect x="737.60" y="322.60" width="14.40" height="20.02" fill="#262626" />
<rect x="738.20" y="323.19" width="13.20" height="18.84" fill="#6a6a6a" />
<rect x="727.60" y="320.63" width="5.20" height="24.16" fill="#1a1a1a" />
<rect x="728.20" y="321.23" width="4.00" height="22.96" fill="#ffc000" />
<rect x="756.30" y="320.63" width="4.40" height="24.16" fill="#1a1a1a" />
<rect x="756.90" y="321.23" width="3.20" height="22.96" fill="#ffc000" />
<rect x="732.90" y="323.18" width="5.10" height="4.83" fill="#1a1a1a" />
<rect x="733.50" y="323.78" width="3.90" height="3.63" fill="#ffc000" />
<rect x="732.90" y="328.09" width="5.10" height="10.33" fill="#1a1a1a" />
<rect x="733.50" y="328.69" width="3.90" height="9.13" fill="#ffc000" />
<rect x="732.90" y="338.19" width="5.10" height="4.34" fill="#1a1a1a" />
<rect x="733.50" y="338.79" width="3.90" height="3.14" fill="#ffc000" />
<rect x="752.40" y="324.95" width="4.40" height="15.72" fill="#1a1a1a" />
<rect x="753.00" y="325.55" width="3.20" height="14.52" fill="#ffc000" />
<rect x="847.30" y="173.30" width="15.10" height="97.10" fill="#3f3f3f" />
<rect x="847.30" y="173.30" width="3.50" height="97.10" fill="#555" />
<polyline points="861.4,174.1 893.9,207.3" stroke="#404040" stroke-width="2.4" fill="none"/>
<polyline points="861.4,269.6 893.9,238.1" stroke="#404040" stroke-width="2.4" fill="none"/>
<rect x="862.40" y="207.10" width="9.90" height="31.20" fill="#3f3f3f" />
<rect x="871.80" y="206.80" width="22.40" height="31.80" fill="#ffc000" stroke="#5a4800" stroke-width="0.8"/>
<rect x="894.20" y="206.80" width="4.80" height="31.80" fill="#cf9a00" stroke="#5a4800" stroke-width="0.8"/>
<rect x="918.80" y="207.20" width="2.91" height="31.20" fill="#333" rx="0.6"/>
<path d="M899.00,207.50 H915.40 L919.60,211.70 V233.90 L915.40,238.10 H899.00 Z" fill="#ffc000" stroke="#5a4800" stroke-width="0.8"/>
<rect x="899.00" y="219.60" width="20.90" height="6.20" fill="#363636" />
<rect x="898.00" y="271.10" width="14.70" height="98.40" fill="#3f3f3f" />
<rect x="898.00" y="271.10" width="3.50" height="98.40" fill="#555" />
<polyline points="911.7,271.9 944.2,304.8" stroke="#404040" stroke-width="2.4" fill="none"/>
<polyline points="911.7,368.7 944.2,336.3" stroke="#404040" stroke-width="2.4" fill="none"/>
<rect x="912.70" y="304.60" width="9.90" height="31.90" fill="#3f3f3f" />
<rect x="922.10" y="304.30" width="22.40" height="32.50" fill="#ffc000" stroke="#5a4800" stroke-width="0.8"/>
<rect x="944.50" y="304.30" width="4.80" height="32.50" fill="#cf9a00" stroke="#5a4800" stroke-width="0.8"/>
<rect x="969.10" y="304.70" width="2.91" height="31.90" fill="#333" rx="0.6"/>
<path d="M949.30,305.00 H965.70 L969.90,309.20 V332.10 L965.70,336.30 H949.30 Z" fill="#ffc000" stroke="#5a4800" stroke-width="0.8"/>
<rect x="949.30" y="317.45" width="20.90" height="6.20" fill="#363636" />
<polygon points="555.7,188.8 733.6,190.4 776.5,345.0 599.7,344.8" fill="none" stroke="#ff0000" stroke-width="3"/>
<polygon points="637.6,177.7 827.0,178.5 876.2,351.5 687.0,350.3" fill="none" stroke="#00b0f0" stroke-width="3"/>
</g>
</svg>
<div class="cap" style="left:77.5px;top:439px">沥青压实梯形推进策略</div>
<div class="cap" style="left:668.5px;top:437px">沥青压实同进同退策略</div>
</body></html>
